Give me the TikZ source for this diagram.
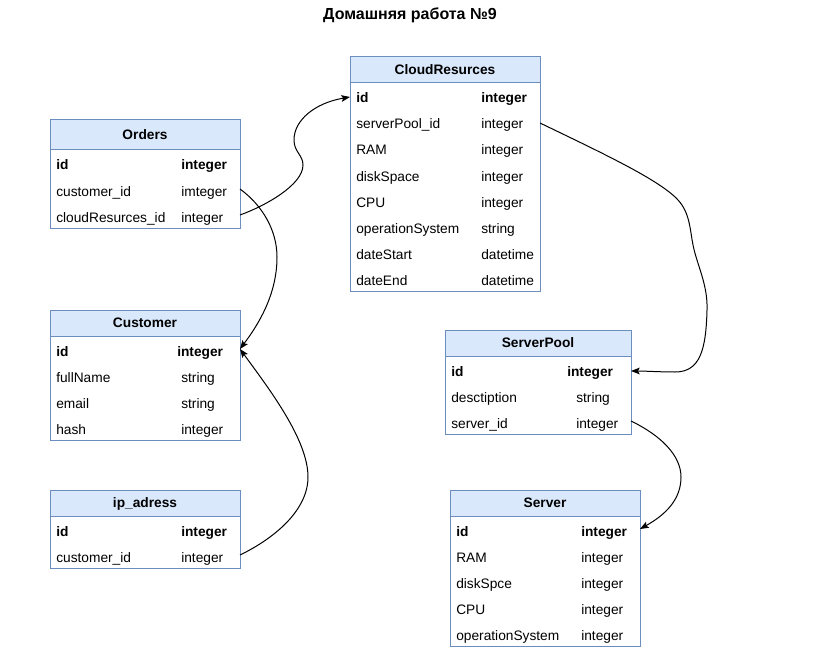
\documentclass[tikz,border=0pt]{standalone}
\usepackage{fontspec}
\setmainfont{Liberation Sans}
\usetikzlibrary{arrows.meta}
\definecolor{hdrfill}{HTML}{DAE8FC}
\definecolor{hdrline}{HTML}{6C8EBF}
\tikzset{
  x=0.75pt, y=-0.75pt,
  hdr/.style={draw=hdrline, fill=hdrfill, line width=0.75pt, anchor=north west, inner sep=0pt, outer sep=0pt,
    font=\bfseries\fontsize{10.3}{12}\selectfont, text height=7.4pt, text depth=0pt},
  bodybox/.style={draw=hdrline, fill=white, line width=0.75pt, anchor=north west, inner sep=0pt, outer sep=0pt},
  cell/.style={anchor=base west, inner sep=0pt, font=\fontsize{10.3}{12}\selectfont},
  bcell/.style={cell, font=\bfseries\fontsize{10.3}{12}\selectfont},
  link/.style={draw=black, line width=0.75pt, -{Stealth[length=6.5pt,width=5pt,inset=1.3pt]}}
}
\newcommand\cellt[5]{\node[#1] (#2) at (#3,#4) {#5};}
\begin{document}
\begin{tikzpicture}
\useasboundingbox (0,0) rectangle (820,649);
\node[font=\bfseries\fontsize{12}{14}\selectfont, inner sep=0pt] (title) at (410,15) {Домашняя работа №9};

% Orders
\node[hdr, minimum width=142.5pt, minimum height=22.5pt] (ordersh) at (50,120) {Orders};
\node[bodybox, minimum width=142.5pt, minimum height=58.5pt] (ordersb) at (50,150) {};
\cellt{bcell}{o1a}{56}{170}{id}
\cellt{bcell}{o1b}{181}{170}{integer}
\cellt{cell}{o2a}{56}{196}{customer\_id}
\cellt{cell}{o2b}{181}{196}{imteger}
\cellt{cell}{o3a}{56}{222}{cloudResurces\_id}
\cellt{cell}{o3b}{181}{222}{integer}

% CloudResurces
\node[hdr, minimum width=142.5pt, minimum height=19.5pt] (cloudh) at (350,57) {CloudResurces};
\node[bodybox, minimum width=142.5pt, minimum height=156pt] (cloudb) at (350,83) {};
\cellt{bcell}{c1a}{356}{103}{id}
\cellt{bcell}{c1b}{481}{103}{integer}
\cellt{cell}{c2a}{356}{129}{serverPool\_id}
\cellt{cell}{c2b}{481}{129}{integer}
\cellt{cell}{c3a}{356}{155}{RAM}
\cellt{cell}{c3b}{481}{155}{integer}
\cellt{cell}{c4a}{356}{181}{diskSpace}
\cellt{cell}{c4b}{481}{181}{integer}
\cellt{cell}{c5a}{356}{207}{CPU}
\cellt{cell}{c5b}{481}{207}{integer}
\cellt{cell}{c6a}{356}{233}{operationSystem}
\cellt{cell}{c6b}{481}{233}{string}
\cellt{cell}{c7a}{356}{259}{dateStart}
\cellt{cell}{c7b}{481}{259}{datetime}
\cellt{cell}{c8a}{356}{285}{dateEnd}
\cellt{cell}{c8b}{481}{285}{datetime}

% Customer
\node[hdr, minimum width=142.5pt, minimum height=19.5pt] (custh) at (50,310) {Customer};
\node[bodybox, minimum width=142.5pt, minimum height=78pt] (custb) at (50,336) {};
\cellt{bcell}{u1a}{56}{356}{id}
\cellt{bcell}{u1b}{177}{356}{integer}
\cellt{cell}{u2a}{56}{382}{fullName}
\cellt{cell}{u2b}{181}{382}{string}
\cellt{cell}{u3a}{56}{408}{email}
\cellt{cell}{u3b}{181}{408}{string}
\cellt{cell}{u4a}{56}{434}{hash}
\cellt{cell}{u4b}{181}{434}{integer}

% ip_adress
\node[hdr, minimum width=142.5pt, minimum height=19.5pt] (iph) at (50,490) {ip\_adress};
\node[bodybox, minimum width=142.5pt, minimum height=39pt] (ipb) at (50,516) {};
\cellt{bcell}{i1a}{56}{536}{id}
\cellt{bcell}{i1b}{181}{536}{integer}
\cellt{cell}{i2a}{56}{562}{customer\_id}
\cellt{cell}{i2b}{181}{562}{integer}

% ServerPool
\node[hdr, minimum width=139.5pt, minimum height=19.5pt] (poolh) at (445,330) {ServerPool};
\node[bodybox, minimum width=139.5pt, minimum height=58.5pt] (poolb) at (445,356) {};
\cellt{bcell}{p1a}{451}{376}{id}
\cellt{bcell}{p1b}{567}{376}{integer}
\cellt{cell}{p2a}{451}{402}{desctiption}
\cellt{cell}{p2b}{576}{402}{string}
\cellt{cell}{p3a}{451}{428}{server\_id}
\cellt{cell}{p3b}{576}{428}{integer}

% Server
\node[hdr, minimum width=142.5pt, minimum height=19.5pt] (servh) at (450,490) {Server};
\node[bodybox, minimum width=142.5pt, minimum height=97.5pt] (servb) at (450,516) {};
\cellt{bcell}{s1a}{456}{536}{id}
\cellt{bcell}{s1b}{581}{536}{integer}
\cellt{cell}{s2a}{456}{562}{RAM}
\cellt{cell}{s2b}{581}{562}{integer}
\cellt{cell}{s3a}{456}{588}{diskSpce}
\cellt{cell}{s3b}{581}{588}{integer}
\cellt{cell}{s4a}{456}{614}{CPU}
\cellt{cell}{s4b}{581}{614}{integer}
\cellt{cell}{s5a}{456}{640}{operationSystem}
\cellt{cell}{s5b}{581}{640}{integer}

% ports
\coordinate (ocr) at (240,215);
\coordinate (ocu) at (240,189);
\coordinate (cid) at (350,97);
\coordinate (csp) at (540,123);
\coordinate (uid) at (240,349);
\coordinate (icu) at (240,555);
\coordinate (pid) at (631,371);
\coordinate (psv) at (631,421);
\coordinate (sid) at (640,529);

% connectors
\draw[link] (ocr) .. controls (265,206) and (303,185) .. (303,165)
  .. controls (303,155) and (294,152) .. (294,140)
  .. controls (294,120) and (315,103) .. (cid);
\draw[link] (ocu) .. controls (262,205) and (277,230) .. (277,257)
  .. controls (277,295) and (258,325) .. (uid);
\draw[link] (icu) .. controls (275,538) and (308,510) .. (308,477)
  .. controls (308,440) and (270,390) .. (uid);
\draw[link] (csp) .. controls (600,152) and (660,180) .. (678,200)
  .. controls (690,213) and (690,230) .. (693,245)
  .. controls (697,265) and (708,285) .. (707,310)
  .. controls (706,350) and (700,372) .. (675,372)
  .. controls (660,372) and (645,371) .. (pid);
\draw[link] (psv) .. controls (660,435) and (681,455) .. (681,477)
  .. controls (681,500) and (665,515) .. (sid);
\end{tikzpicture}
\end{document}
